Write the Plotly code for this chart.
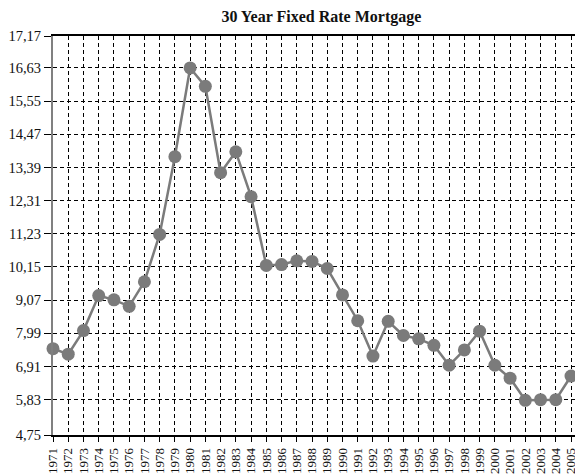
import plotly.graph_objects as go

# ---- data ----
years = list(range(1971, 2006))
rates = [7.49, 7.31, 8.08, 9.22, 9.08, 8.87, 9.67, 11.21, 13.74, 16.63,
         16.03, 13.22, 13.90, 12.44, 10.20, 10.23, 10.35, 10.33, 10.10, 9.24,
         8.40, 7.25, 8.38, 7.92, 7.81, 7.60, 6.95, 7.45, 8.06, 6.95,
         6.53, 5.81, 5.83, 5.83, 6.60]
y_tick_labels = ["4,75", "5,83", "6,91", "7,99", "9,07", "10,15", "11,23",
                 "12,31", "13,39", "14,47", "15,55", "16,63", "17,17"]
y_inner_ticks = [5.83, 6.91, 7.99, 9.07, 10.15, 11.23, 12.31, 13.39, 14.47, 15.55, 16.63]
y_range = [4.68, 17.67]
x_range = [1971, 2005.72]

y_tick_vals = [y_range[0]] + y_inner_ticks + [y_range[1]]

grey = "#7b7b7b"
serif = "Liberation Serif, Times New Roman, serif"

fig = go.Figure()
fig.add_trace(go.Scatter(
    x=years, y=rates, mode="lines+markers",
    line=dict(color=grey, width=2.5),
    marker=dict(color=grey, size=13),
    showlegend=False, cliponaxis=False,
))

# the page body adds an 8px margin, so the figure is 575x466 to fill 583x474
fig.update_layout(
    width=575, height=466,
    margin=dict(l=45, r=1, t=28, b=39, autoexpand=False),
    paper_bgcolor="white", plot_bgcolor="white",
    title=dict(text="<b>30 Year Fixed Rate Mortgage</b>", x=0.545, xanchor="center",
               y=1, yanchor="top", pad=dict(t=3),
               font=dict(family=serif, size=16, color="#111")),
    font=dict(family=serif, color="#111"),
)
fig.update_xaxes(
    range=x_range, tickmode="array", tickvals=years, ticktext=[str(y) for y in years],
    tickangle=-90, tickfont=dict(size=13, family=serif, color="#111"),
    showgrid=True, gridcolor="black", gridwidth=1, griddash="4px,3px",
    showline=True, linecolor="black", linewidth=1.5, mirror=True,
    ticks="outside", ticklen=5, tickcolor="black", tickwidth=1,
    ticklabelstandoff=1,
    zeroline=False, automargin=False,
)
fig.update_yaxes(
    range=y_range, tickmode="array", tickvals=y_tick_vals, ticktext=y_tick_labels,
    tickfont=dict(size=14.5, family=serif, color="#111"),
    showgrid=True, gridcolor="black", gridwidth=1, griddash="4px,3px",
    showline=True, linecolor="#808080", linewidth=2,
    ticks="outside", ticklen=7, tickcolor="black", tickwidth=1,
    zeroline=False, automargin=False,
)

fig.write_html("out.html")
